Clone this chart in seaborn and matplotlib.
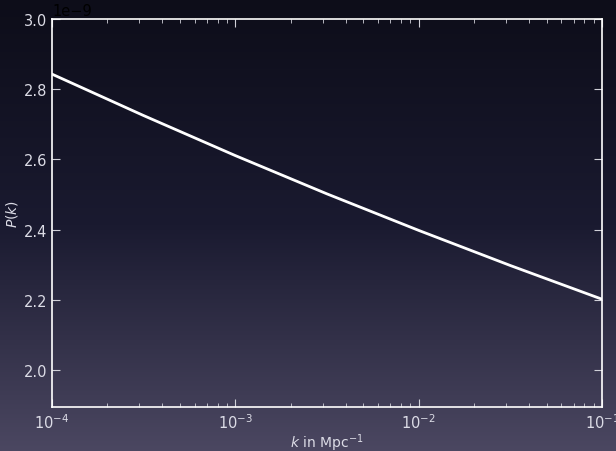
import numpy as np
import pandas as pd
import matplotlib
matplotlib.use('Agg')
import matplotlib.pyplot as plt
import seaborn as sns
from matplotlib.colors import LinearSegmentedColormap

# values
k_values = [1e-4, 3.16e-4, 1e-3, 3.16e-3, 1e-2, 3.16e-2, 1e-1]
pk_values = [2.843e-9, 2.725e-9, 2.611e-9, 2.502e-9, 2.398e-9, 2.298e-9, 2.202e-9]

TEXT_COLOR = '#dcdce6'

def main():
    sns.set_theme(style='ticks')
    plt.rcParams['font.family'] = ['DejaVu Sans']
    plt.rcParams['mathtext.fontset'] = 'dejavusans'

    fig = plt.figure(figsize=(6.16, 4.52), dpi=100)

    # gradient background over whole figure
    bg = fig.add_axes([0, 0, 1, 1], zorder=-10)
    cmap = LinearSegmentedColormap.from_list('bg', ['#0d0d19', '#1a1a30', '#4b4761'])
    grad = np.linspace(0, 1, 256).reshape(-1, 1)
    bg.imshow(grad, aspect='auto', cmap=cmap, extent=[0, 1, 0, 1], origin='upper')
    bg.set_axis_off()

    ax = fig.add_axes([52 / 616, 1 - 408 / 452, 550 / 616, 388 / 452])
    ax.set_facecolor('none')

    df = pd.DataFrame({'k': k_values, 'P': pk_values})
    sns.lineplot(data=df, x='k', y='P', ax=ax, color='white', linewidth=2)

    ax.set_xscale('log')
    ax.set_xlim(1e-4, 1e-1)
    ax.set_ylim(1.895e-9, 3.0e-9)
    ax.set_yticks([2.0e-9, 2.2e-9, 2.4e-9, 2.6e-9, 2.8e-9, 3.0e-9])

    for s in ax.spines.values():
        s.set_color('white')
        s.set_linewidth(1.2)

    ax.tick_params(which='both', direction='in', top=True, right=True,
                   colors='#d0d0d8', labelcolor=TEXT_COLOR, labelsize=10.5)
    ax.tick_params(which='major', length=6, width=0.8)
    ax.tick_params(which='minor', length=3, width=0.6)

    ax.yaxis.get_offset_text().set_color('black')
    ax.yaxis.get_offset_text().set_fontsize(10.5)

    ax.set_xlabel('$k$ in Mpc$^{-1}$', color=TEXT_COLOR, fontsize=10)
    ax.set_ylabel('$P(k)$', color=TEXT_COLOR, fontsize=10)
    ax.xaxis.set_label_coords(0.5, -0.062)
    ax.yaxis.set_label_coords(-0.058, 0.5)

    fig.savefig('out.png', dpi=100)
    plt.close(fig)

if __name__ == '__main__':
    main()
